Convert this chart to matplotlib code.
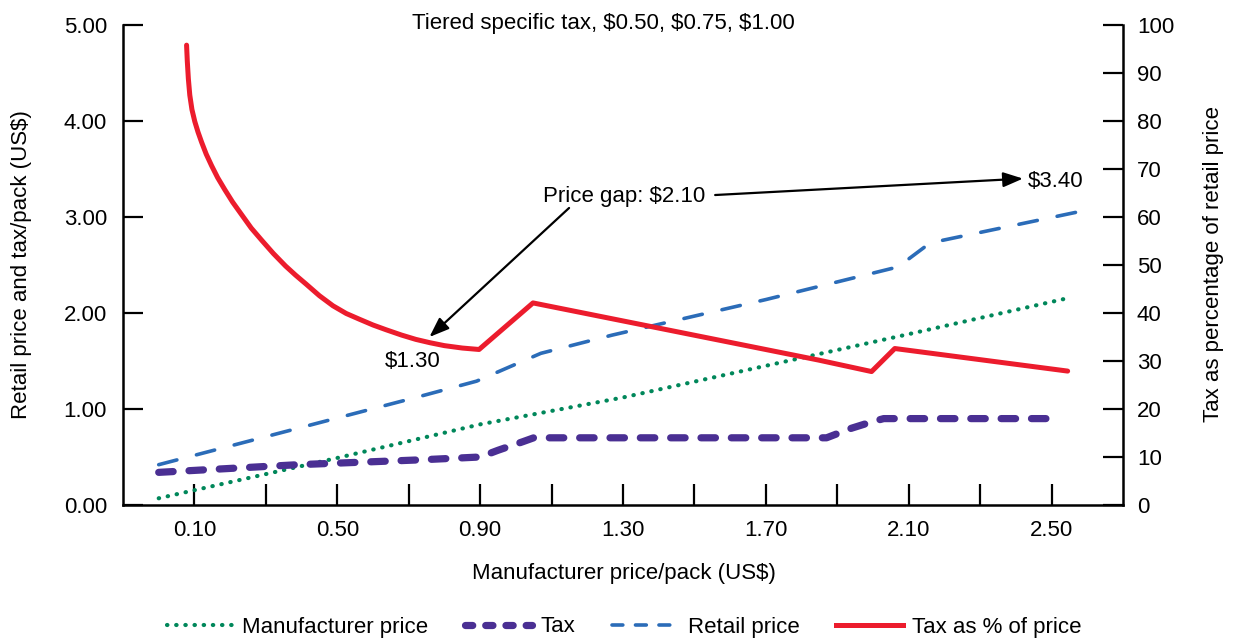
import matplotlib
matplotlib.use("Agg")
import matplotlib.pyplot as plt
from matplotlib import font_manager
from matplotlib.lines import Line2D

# ---------------- data (x = position on manufacturer price axis) ----------------
manu_x = [0.00, 0.50, 0.90, 1.30, 1.70, 2.10, 2.54]
manu_y = [0.07, 0.49, 0.84, 1.12, 1.45, 1.78, 2.15]

tax_x = [0.00, 0.39, 0.73, 0.90, 0.95, 1.02, 1.05, 1.87, 1.94, 2.00, 2.03, 2.52]
tax_y = [0.34, 0.42, 0.47, 0.50, 0.57, 0.66, 0.70, 0.70, 0.80, 0.87, 0.90, 0.90]

retail_x = [0.00, 0.73, 0.89, 1.07, 1.27, 1.70, 2.07, 2.16, 2.57]
retail_y = [0.42, 1.13, 1.29, 1.58, 1.77, 2.14, 2.48, 2.73, 3.05]

pct_x = [0.078, 0.080, 0.083, 0.087, 0.093, 0.101, 0.110, 0.120, 0.133, 0.148,
         0.165, 0.185, 0.207, 0.232, 0.259, 0.289, 0.321, 0.355, 0.383, 0.413,
         0.450, 0.488, 0.525, 0.562, 0.600, 0.637, 0.680, 0.720, 0.760, 0.800,
         0.850, 0.897, 1.048, 1.847, 1.996, 2.061, 2.545]
pct_y = [95.8, 92.5, 88.8, 85.4, 82.4, 79.9, 77.7, 75.6, 73.1, 70.7,
         68.2, 65.7, 63.1, 60.5, 57.7, 55.1, 52.4, 49.8, 47.9, 46.0,
         43.6, 41.5, 39.9, 38.7, 37.5, 36.5, 35.4, 34.5, 33.8, 33.2,
         32.7, 32.4, 42.1, 30.2, 27.8, 32.6, 27.9]

x_ticks = [0.10, 0.30, 0.50, 0.70, 0.90, 1.10, 1.30, 1.50, 1.70, 1.90, 2.10, 2.30, 2.50]
x_ticklabels = ["0.10", "", "0.50", "", "0.90", "", "1.30", "", "1.70", "", "2.10", "", "2.50"]
y_left_ticks = [0, 1, 2, 3, 4, 5]
y_right_ticks = [0, 10, 20, 30, 40, 50, 60, 70, 80, 90, 100]

# ---------------- font ----------------
def available(name):
    try:
        font_manager.findfont(font_manager.FontProperties(family=name), fallback_to_default=False)
        return True
    except Exception:
        return False

fam = "Liberation Sans Narrow" if available("Liberation Sans Narrow") else "Liberation Sans"
plt.rcParams['font.family'] = [fam, 'DejaVu Sans']
FS = 16

GREEN = "#00875A"
PURPLE = "#4A2F93"
BLUE = "#2B6CB8"
RED = "#EC1C2D"

W, H = 1233, 640
fig = plt.figure(figsize=(W / 100, H / 100), dpi=100)
L, R, B, T = 123, 1123, 505, 25
ax = fig.add_axes([L / W, 1 - B / H, (R - L) / W, (B - T) / H])
ax2 = ax.twinx()

ax.set_xlim(-0.1, 2.7)
ax.set_ylim(0, 5)
ax2.set_ylim(0, 100)

l1, = ax.plot(manu_x, manu_y, color=GREEN, lw=3.0, linestyle=(0, (0.1, 2.1)),
              dash_capstyle='round', solid_capstyle='round')
l2, = ax.plot(tax_x, tax_y, color=PURPLE, lw=5.2, linestyle=(0, (2.0, 2.2)),
              dash_capstyle='round', dash_joinstyle='round')
l3, = ax.plot(retail_x, retail_y, color=BLUE, lw=2.6, linestyle=(0, (5.2, 5.6)),
              dash_capstyle='round', dash_joinstyle='round')
l4, = ax2.plot(pct_x, pct_y, color=RED, lw=3.6, solid_capstyle='round', solid_joinstyle='round')

# spines & ticks
for a in (ax, ax2):
    a.spines['top'].set_visible(False)
    for s in ('left', 'right', 'bottom'):
        a.spines[s].set_linewidth(1.8)
ax.spines['right'].set_visible(False)
ax2.spines['left'].set_visible(False)
ax2.spines['bottom'].set_visible(False)

ax.set_xticks(x_ticks)
ax.set_xticklabels(x_ticklabels)
ax.set_yticks(y_left_ticks)
ax.set_yticklabels([f"{v:.2f}" for v in y_left_ticks])
ax2.set_yticks(y_right_ticks)
ax2.set_yticklabels([str(v) for v in y_right_ticks])

ax.tick_params(axis='x', direction='in', length=15, width=1.6, pad=11, labelsize=FS)
ax.tick_params(axis='y', direction='in', length=14.5, width=1.6, pad=11.5, labelsize=FS)
ax2.tick_params(axis='y', direction='in', length=14.5, width=1.6, pad=10, labelsize=FS)

# axis labels
fig.text(22 / W, 1 - 265 / H, "Retail price and tax/pack (US$)", rotation=90,
         ha='center', va='center', fontsize=FS)
fig.text(1213 / W, 1 - 264 / H, "Tax as percentage of retail price", rotation=90,
         ha='center', va='center', fontsize=FS)
fig.text(624 / W, 1 - 573 / H, "Manufacturer price/pack (US$)",
         ha='center', va='center', fontsize=FS)

# title and annotations
ax.text(1.246, 5.02, "Tiered specific tax, $0.50, $0.75, $1.00", ha='center', va='center', fontsize=FS)
ax.text(1.302, 3.21, "Price gap: $2.10", ha='center', va='center', fontsize=FS)
ax.text(2.434, 3.37, "$3.40", ha='left', va='center', fontsize=FS)
ax.text(0.71, 1.49, "$1.30", ha='center', va='center', fontsize=FS)

arrowprops = dict(arrowstyle='-|>,head_length=1.2,head_width=0.45', color='black', lw=1.6,
                  shrinkA=0, shrinkB=0)
ax.annotate("", xy=(0.758, 1.75), xytext=(1.149, 3.094), arrowprops=arrowprops)
ax.annotate("", xy=(2.42, 3.40), xytext=(1.558, 3.229), arrowprops=arrowprops)

# legend
handles = [
    Line2D([], [], color=GREEN, lw=3.0, linestyle=(0, (0.1, 2.1)), dash_capstyle='round'),
    Line2D([], [], color=PURPLE, lw=5.2, linestyle=(0, (1.0, 1.8)), dash_capstyle='round'),
    Line2D([], [], color=BLUE, lw=2.6, linestyle=(0, (3.0, 3.5)), dash_capstyle='round'),
    Line2D([], [], color=RED, lw=3.6),
]
labels = ["Manufacturer price", "Tax", "Retail price", "Tax as % of price"]
fig.legend(handles, labels, loc='center', bbox_to_anchor=(624 / W, 1 - 627 / H), ncol=4,
           frameon=False, fontsize=FS, handlelength=3.0, handletextpad=0.4, columnspacing=1.65,
           borderpad=0, borderaxespad=0)

fig.savefig("out.png", dpi=100)
